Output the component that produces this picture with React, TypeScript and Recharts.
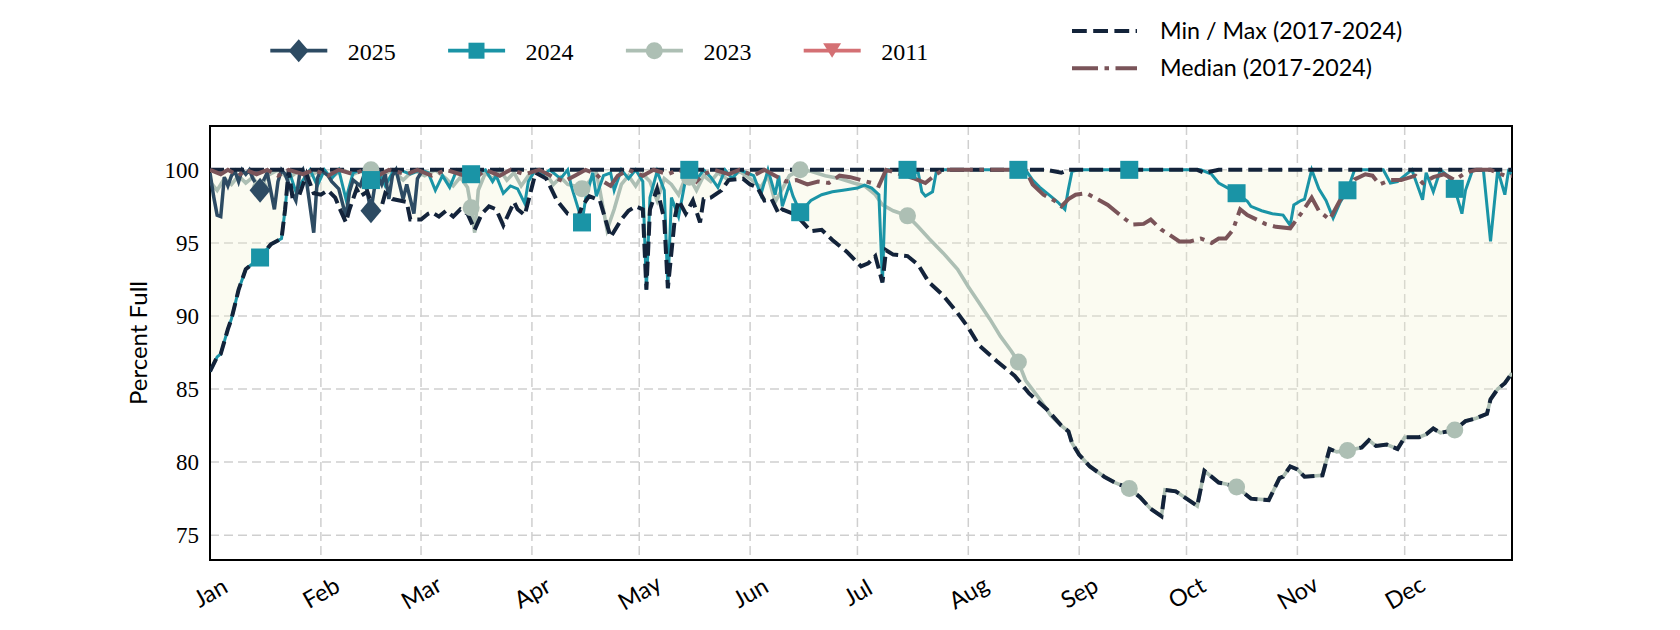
import React from "react";
import {
  ComposedChart,
  Line,
  Area,
  XAxis,
  YAxis,
  CartesianGrid,
  ReferenceArea,
} from "recharts";

// axis ticks (day of year)
const monthTicks = [0, 31, 59, 90, 120, 151, 181, 212, 243, 273, 304, 334];
const monthNames = ["Jan", "Feb", "Mar", "Apr", "May", "Jun", "Jul", "Aug", "Sep", "Oct", "Nov", "Dec"];
const yTicks = [75, 80, 85, 90, 95, 100];
const xDomain = [0, 364];
const yDomain = [73.3, 103];

// marker on the 15th of each month
const markerDays = [14, 45, 73, 104, 134, 165, 195, 226, 257, 287, 318, 348];

// min / max band 2017-2024
const minDays = [
  0, 2, 3, 5, 6, 8, 10, 14, 17, 20,
  21, 22, 23, 25, 27, 29, 31, 33, 35, 36,
  38, 39, 41, 42, 44, 46, 48, 49, 51, 53,
  55, 56, 59, 61, 62, 64, 66, 68, 70, 72,
  74, 76, 78, 80, 82, 85, 86, 88, 91, 94,
  97, 100, 103, 104, 106, 109, 112, 115, 117, 119,
  121, 122, 123, 125, 127, 128, 130, 131, 133, 135,
  137, 138, 140, 143, 145, 149, 151, 153, 155, 157,
  159, 160, 163, 165, 168, 171, 174, 178, 182, 184,
  186, 188, 189, 191, 195, 198, 201, 205, 209, 212,
  215, 220, 225, 229, 234, 238, 240, 241, 243, 246,
  250, 253, 257, 260, 263, 266, 267, 270, 273, 276,
  278, 282, 284, 287, 291, 296, 299, 300, 302, 304,
  306, 311, 313, 315, 318, 322, 324, 326, 329, 332,
  334, 338, 340, 342, 344, 348, 351, 354, 357, 358,
  360, 362, 364,
];
const minPct = [
  86.2, 87.2, 87.4, 89.1, 89.8, 91.8, 93.2, 94.0, 94.9, 95.3,
  97.3, 100, 98.2, 98.3, 99.7, 98.4, 98.3, 98.6, 98.1, 97.5,
  96.4, 97.3, 98.7, 98.2, 98.5, 97.1, 97.5, 98.4, 98.0, 97.9,
  97.8, 96.6, 96.6, 97.0, 97.1, 96.8, 97.2, 96.8, 97.3, 97.0,
  95.9, 97.0, 97.5, 97.3, 96.2, 97.8, 97.3, 96.9, 99.8, 99.4,
  97.9, 97.0, 96.8, 97.5, 98.2, 97.9, 95.4, 96.6, 97.2, 97.5,
  97.3, 91.8, 97.3, 98.7, 96.6, 91.9, 96.8, 97.9, 97.0, 97.9,
  96.4, 98.0, 98.1, 98.6, 99.3, 99.4, 99.0, 98.8, 97.9, 98.0,
  97.0, 97.3, 97.0, 96.6, 95.8, 95.9, 95.2, 94.4, 93.4, 93.6,
  94.1, 92.3, 94.5, 94.2, 94.1, 93.5, 92.3, 91.4, 90.2, 89.2,
  88.0, 86.9, 85.9, 84.7, 83.6, 82.5, 82.1, 81.3, 80.5, 79.7,
  79.0, 78.6, 78.2, 77.6, 76.8, 76.3, 78.1, 78.0, 77.5, 77.0,
  79.4, 78.6, 78.5, 78.3, 77.5, 77.4, 78.9, 79.0, 79.7, 79.5,
  79.0, 79.1, 80.9, 80.7, 80.8, 81.0, 81.5, 81.1, 81.2, 80.9,
  81.7, 81.7, 81.9, 82.3, 82.0, 82.2, 82.8, 83.0, 83.3, 84.3,
  85.0, 85.4, 86.1,
];
const maxPct = [
  100, 100, 100, 100, 100, 100, 100, 100, 100, 100,
  100, 100, 100, 100, 100, 100, 100, 100, 100, 100,
  100, 100, 100, 100, 100, 100, 100, 100, 100, 100,
  100, 100, 100, 100, 100, 100, 100, 100, 100, 100,
  100, 100, 100, 100, 100, 100, 100, 100, 100, 100,
  100, 100, 100, 100, 100, 100, 100, 100, 100, 100,
  100, 100, 100, 100, 100, 100, 100, 100, 100, 100,
  100, 100, 100, 100, 100, 100, 100, 100, 100, 100,
  100, 100, 100, 100, 100, 100, 100, 100, 100, 100,
  100, 100, 100, 100, 100, 100, 100, 100, 100, 100,
  100, 100, 100, 100, 100, 99.8, 100, 100, 100, 100,
  100, 100, 100, 100, 100, 100, 100, 100, 100, 100,
  99.8, 100, 100, 100, 100, 100, 100, 100, 100, 100,
  100, 100, 100, 100, 100, 100, 100, 100, 100, 100,
  100, 100, 100, 100, 100, 100, 100, 100, 100, 100,
  100, 100, 100,
];

// median 2017-2024
const medianDays = [
  0, 3, 5, 8, 10, 13, 16, 19, 22, 26,
  29, 33, 36, 40, 43, 47, 50, 55, 58, 62,
  66, 70, 74, 77, 81, 84, 88, 92, 96, 99,
  102, 105, 108, 110, 112, 114, 117, 121, 124, 128,
  131, 134, 136, 138, 141, 145, 148, 152, 155, 158,
  161, 164, 167, 170, 173, 176, 179, 182, 185, 187,
  189, 197, 200, 203, 205, 228, 230, 233, 236, 238,
  240, 242, 245, 248, 251, 254, 256, 258, 261, 263,
  266, 268, 271, 274, 277, 280, 282, 284, 286, 288,
  290, 293, 295, 298, 302, 305, 308, 310, 313, 316,
  320, 323, 325, 327, 330, 333, 337, 339, 342, 345,
  348, 351, 354, 358, 362, 364,
];
const medianPct = [
  100, 99.7, 100, 99.6, 100, 99.7, 100, 99.6, 100, 99.7,
  100, 99.6, 100, 99.7, 100, 99.6, 100, 99.7, 100, 99.6,
  100, 99.7, 99.4, 100, 99.6, 100, 99.7, 100, 99.5, 99.2,
  99.6, 100, 99.7, 99.2, 98.9, 99.6, 100, 99.6, 100, 99.7,
  100, 99.7, 99.2, 99.7, 100, 99.7, 100, 99.6, 100, 99.6,
  99.2, 99.3, 99.0, 99.2, 99.1, 99.6, 99.5, 99.3, 99.1, 98.9,
  100, 99.4, 99.1, 99.7, 100, 100, 99.0, 98.3, 97.9, 97.5,
  98.0, 98.3, 98.4, 98.0, 97.6, 97.0, 96.6, 96.25, 96.3, 96.6,
  95.9, 95.6, 95.1, 95.1, 95.3, 95.0, 95.3, 95.3, 95.9, 97.3,
  96.9, 96.55, 96.3, 96.1, 96.0, 97.0, 98.1, 97.2, 96.6, 97.95,
  99.35, 99.7, 99.6, 99.0, 99.3, 99.3, 99.6, 99.1, 99.5, 99.7,
  99.3, 99.8, 100, 100, 99.6, 99.6,
];

// 2025
const days2025 = [
  0, 1, 2, 3, 4, 5, 6, 7, 8, 9,
  10, 11, 12, 14, 15, 16, 18, 19, 20, 21,
  23, 24, 25, 26, 27, 29, 30, 31, 33, 34,
  36, 38, 39, 40, 42, 43, 45, 46, 47, 48,
  49, 50, 51, 52, 54, 55, 57, 58, 59,
];
const pct2025 = [
  99.8, 98.2, 96.9, 96.8, 99.5, 98.9, 99.6, 99.9, 99.2, 100,
  99.7, 100, 99.4, 98.6, 99.3, 99.8, 97.3, 99.2, 100, 99.7,
  98.4, 97.9, 99.6, 100, 99.2, 95.7, 99.4, 100, 99.6, 99.2,
  98.7, 96.8, 98.5, 99.3, 98.9, 99.6, 97.2, 98.8, 99.5, 99.0,
  99.7, 98.0, 99.6, 100, 98.0, 99.0, 97.0, 99.4, 99.8,
];

// 2024
const days2024 = [
  0, 2, 3, 5, 6, 8, 10, 14, 17, 20,
  21, 22, 24, 26, 28, 30, 32, 34, 36, 38,
  40, 42, 45, 47, 49, 51, 53, 56, 59, 61,
  63, 65, 67, 69, 71, 73, 75, 77, 79, 80,
  82, 84, 86, 88, 89, 91, 93, 95, 98, 100,
  101, 103, 104, 105, 107, 108, 110, 112, 113, 115,
  117, 119, 121, 122, 123, 125, 127, 128, 129, 131,
  133, 134, 136, 138, 140, 142, 144, 146, 148, 150,
  152, 154, 156, 158, 159, 160, 162, 163, 165, 168,
  171, 174, 177, 181, 183, 185, 187, 188, 189, 195,
  198, 199, 200, 202, 203, 205, 226, 228, 230, 232,
  235, 237, 239, 240, 241, 243, 257, 277, 280, 282,
  285, 287, 290, 291, 294, 297, 300, 302, 303, 305,
  306, 308, 310, 312, 314, 316, 318, 320, 324, 328,
  330, 332, 334, 336, 339, 340, 342, 344, 346, 348,
  350, 351, 353, 356, 358, 360, 362, 363, 364,
];
const pct2024 = [
  86.2, 87.2, 87.4, 89.1, 89.8, 91.8, 93.2, 94.0, 94.9, 95.3,
  97.3, 100, 98.5, 99.3, 100, 98.9, 100, 99.4, 100, 98.0,
  99.8, 100, 99.3, 100, 98.9, 99.8, 100, 99.7, 100, 99.8,
  98.6, 99.6, 98.8, 100, 99.7, 99.7, 99.8, 100, 99.2, 99.6,
  98.4, 98.9, 98.7, 97.7, 99.2, 100, 99.6, 100, 99.4, 100,
  98.9, 97.3, 96.4, 98.0, 99.8, 98.2, 99.6, 99.8, 98.6, 100,
  99.4, 100, 99.2, 91.8, 98.1, 99.9, 98.6, 91.9, 98.1, 96.8,
  99.4, 100, 99.3, 100, 99.5, 98.8, 100, 99.4, 100, 99.8,
  99.6, 98.3, 100, 98.3, 99.6, 97.5, 99.0, 98.2, 97.1, 97.9,
  98.3, 98.5, 98.6, 98.75, 98.95, 98.75, 98.3, 92.3, 100, 100,
  99.8, 98.5, 98.2, 98.5, 99.8, 100, 100, 100, 99.3, 98.8,
  98.2, 97.8, 97.3, 98.7, 99.9, 100, 100, 100, 99.7, 99.1,
  98.7, 98.4, 97.85, 97.5, 97.2, 97.0, 96.9, 96.2, 97.6, 97.9,
  98.0, 100, 98.7, 97.9, 96.7, 97.8, 98.6, 100, 100, 100,
  99.1, 99.2, 99.6, 100, 97.95, 99.8, 98.5, 100, 99.6, 98.7,
  97.0, 98.6, 100, 100, 95.1, 100, 98.3, 99.9, 99.7,
];

// 2023
const days2023 = [
  0, 2, 4, 6, 8, 10, 12, 14, 16, 19,
  22, 25, 28, 31, 34, 37, 40, 43, 45, 48,
  51, 54, 57, 60, 63, 66, 68, 70, 72, 73,
  74, 75, 77, 79, 81, 83, 85, 87, 89, 91,
  94, 96, 98, 100, 102, 104, 106, 108, 109, 111,
  113, 115, 117, 119, 121, 123, 125, 127, 129, 131,
  133, 134, 136, 138, 140, 142, 145, 148, 151, 154,
  156, 158, 160, 162, 165, 168, 172, 176, 180, 183,
  186, 188, 191, 195, 198, 201, 205, 209, 212, 215,
  218, 221, 224, 226, 228, 232, 235, 238, 240, 241,
  243, 246, 250, 253, 257, 260, 263, 266, 267, 270,
  273, 276, 278, 282, 284, 287, 291, 296, 299, 300,
  302, 304, 306, 311, 313, 315, 318, 322, 324, 326,
  329, 332, 334, 338, 340, 342, 344, 348, 351, 354,
  357, 358, 360, 362, 364,
];
const pct2023 = [
  99.2, 98.6, 99.4, 99.0, 99.6, 99.1, 99.5, 98.7, 99.6, 100,
  99.4, 100, 99.6, 100, 99.5, 100, 99.7, 100, 100, 99.6,
  100, 99.3, 100, 99.6, 100, 99.4, 98.9, 99.5, 98.8, 97.4,
  95.7, 98.6, 99.8, 99.4, 100, 99.3, 99.8, 98.9, 99.6, 100,
  99.7, 99.0, 99.5, 99.0, 98.9, 98.7, 99.2, 99.8, 98.6, 95.9,
  97.3, 99.0, 99.6, 98.9, 99.7, 99.2, 97.9, 99.4, 99.0, 98.3,
  99.5, 99.5, 98.6, 99.6, 99.2, 99.8, 99.3, 99.9, 99.4, 98.8,
  99.6, 97.8, 98.7, 99.6, 100, 99.9, 99.6, 99.4, 99.1, 98.9,
  98.3, 97.6, 97.2, 96.85, 96.1, 95.3, 94.3, 93.2, 92.0, 90.9,
  89.8, 88.6, 87.6, 86.85, 85.6, 84.3, 83.2, 82.5, 82.1, 81.3,
  80.5, 79.7, 79.0, 78.6, 78.2, 77.6, 76.8, 76.3, 78.1, 78.0,
  77.5, 77.0, 79.4, 78.6, 78.5, 78.3, 77.5, 77.4, 78.9, 79.0,
  79.7, 79.5, 79.0, 79.1, 80.9, 80.7, 80.8, 81.0, 81.5, 81.1,
  81.2, 80.9, 81.7, 81.7, 81.9, 82.3, 82.0, 82.2, 82.8, 83.0,
  83.3, 84.3, 85.0, 85.4, 86.1,
];

// 2011 (legend only, nothing in range)
const days2011: number[] = [];
const pct2011: number[] = [];

const COLORS = {
  y2025: "#2d4b63",
  y2024: "#1a94a6",
  y2023: "#adbfb4",
  y2011: "#d47074",
  minMax: "#13233a",
  median: "#7a5459",
};

const toRows = (days: number[], vals: number[]) =>
  days.map((day, i) => ({ day, pct: vals[i] }));

const bounds = minDays.map((day, i) => ({
  day,
  min: minPct[i],
  max: maxPct[i],
  band: [minPct[i], maxPct[i]],
}));
const rows2025 = toRows(days2025, pct2025);
const rows2024 = toRows(days2024, pct2024);
const rows2023 = toRows(days2023, pct2023);
const rows2011 = toRows(days2011, pct2011);
const medianRows = toRows(medianDays, medianPct);

const yearLegend = [
  { label: "2025", color: COLORS.y2025, shape: "diamond" },
  { label: "2024", color: COLORS.y2024, shape: "square" },
  { label: "2023", color: COLORS.y2023, shape: "circle" },
  { label: "2011", color: COLORS.y2011, shape: "triangle" },
];

function markerDot(shape: string, color: string) {
  return (props: any) => {
    const { cx, cy, payload, index } = props;
    if (cx == null || cy == null || !markerDays.includes(payload.day)) {
      return <g key={`n-${index}`} />;
    }
    if (shape === "square") {
      return <rect key={`m-${index}`} x={cx - 9} y={cy - 9} width={18} height={18} fill={color} />;
    }
    if (shape === "circle") {
      return <circle key={`m-${index}`} cx={cx} cy={cy} r={8.5} fill={color} />;
    }
    return (
      <polygon
        key={`m-${index}`}
        points={`${cx},${cy - 12.5} ${cx + 10.5},${cy} ${cx},${cy + 12.5} ${cx - 10.5},${cy}`}
        fill={color}
      />
    );
  };
}

const MonthTick = (props: any) => {
  const { x, y, payload } = props;
  const name = monthNames[monthTicks.indexOf(payload.value)];
  return (
    <text
      x={x}
      y={y}
      transform={`rotate(-30, ${x}, ${y})`}
      textAnchor="middle"
      dominantBaseline="central"
      fontFamily="Lato"
      fontSize={23.5}
      fill="#000"
    >
      {name}
    </text>
  );
};

const YLabel = (props: any) => {
  const { viewBox } = props;
  const cx = viewBox.x - 13;
  const cy = viewBox.y + viewBox.height / 2;
  return (
    <text
      x={cx}
      y={cy}
      transform={`rotate(-90, ${cx}, ${cy})`}
      textAnchor="middle"
      dominantBaseline="central"
      fontFamily="Lato"
      fontSize={24}
      fill="#000"
    >
      Percent Full
    </text>
  );
};

function LegendMarker({ shape, x, y, color }: { shape: string; x: number; y: number; color: string }) {
  if (shape === "diamond")
    return <polygon points={`${x},${y - 11.5} ${x + 10},${y} ${x},${y + 11.5} ${x - 10},${y}`} fill={color} />;
  if (shape === "square") return <rect x={x - 8} y={y - 8} width={16} height={16} fill={color} />;
  if (shape === "circle") return <circle cx={x} cy={y} r={8.5} fill={color} />;
  return <polygon points={`${x - 9},${y - 7.5} ${x + 9},${y - 7.5} ${x},${y + 7}`} fill={color} />;
}

function ChartLegend() {
  return (
    <svg width={1680} height={100} style={{ position: "absolute", left: 0, top: 0, pointerEvents: "none" }}>
      {yearLegend.map((item, i) => {
        const x0 = 270.3 + i * 177.8;
        const y = 50.7;
        return (
          <g key={item.label}>
            <line x1={x0} x2={x0 + 57} y1={y} y2={y} stroke={item.color} strokeWidth={3.7} />
            <LegendMarker shape={item.shape} x={x0 + 28.4} y={y} color={item.color} />
            <text x={x0 + 77.5} y={59.5} fontFamily="Liberation Serif" fontSize={24} fill="#000">
              {item.label}
            </text>
          </g>
        );
      })}
      <line x1={1072} x2={1137} y1={31} y2={31} stroke={COLORS.minMax} strokeWidth={4} strokeDasharray="14.8 6.4" />
      <text x={1160} y={38.5} fontFamily="Lato" fontSize={23.3} fill="#000">
        Min / Max (2017-2024)
      </text>
      <line x1={1072} x2={1137} y1={68.3} y2={68.3} stroke={COLORS.median} strokeWidth={4} strokeDasharray="26 6.5 4.5 6.5" />
      <text x={1160} y={76.2} fontFamily="Lato" fontSize={23.3} fill="#000">
        Median (2017-2024)
      </text>
    </svg>
  );
}

export default function App() {
  return (
    <div style={{ position: "absolute", left: 0, top: 0, width: 1680, height: 630, background: "#fff" }}>
      <ComposedChart width={1680} height={630} margin={{ top: 126, right: 168, left: 150, bottom: 20 }}>
        <CartesianGrid stroke="#cfcfcf" strokeDasharray="9 5" strokeWidth={1.5} />
        <XAxis
          dataKey="day"
          type="number"
          domain={xDomain}
          ticks={monthTicks}
          interval={0}
          tick={<MonthTick />}
          tickLine={false}
          axisLine={false}
          tickSize={0}
          tickMargin={32}
          height={50}
          allowDataOverflow
        />
        <YAxis
          type="number"
          domain={yDomain}
          ticks={yTicks}
          interval={0}
          width={60}
          tickLine={false}
          axisLine={false}
          tickSize={0}
          tickMargin={11}
          tick={{ fontFamily: "Liberation Serif", fontSize: 23, fill: "#000" }}
          label={<YLabel />}
          allowDataOverflow
        />
        <Area
          data={bounds}
          dataKey="band"
          type="linear"
          stroke="none"
          fill="#f2f2cc"
          fillOpacity={0.28}
          isAnimationActive={false}
        />
        <Line data={rows2011} dataKey="pct" stroke={COLORS.y2011} strokeWidth={3} dot={false} activeDot={false} isAnimationActive={false} />
        <Line data={rows2023} dataKey="pct" type="linear" stroke={COLORS.y2023} strokeWidth={3.6} dot={false} activeDot={false} isAnimationActive={false} />
        <Line data={rows2024} dataKey="pct" type="linear" stroke={COLORS.y2024} strokeWidth={3} dot={false} activeDot={false} isAnimationActive={false} />
        <Line data={rows2025} dataKey="pct" type="linear" stroke={COLORS.y2025} strokeWidth={3.5} dot={false} activeDot={false} isAnimationActive={false} />
        <Line data={bounds} dataKey="min" type="linear" stroke={COLORS.minMax} strokeWidth={4} strokeDasharray="14 6" dot={false} activeDot={false} isAnimationActive={false} />
        <Line data={bounds} dataKey="max" type="linear" stroke={COLORS.minMax} strokeWidth={4} strokeDasharray="14 6" dot={false} activeDot={false} isAnimationActive={false} />
        <Line data={medianRows} dataKey="pct" type="linear" stroke={COLORS.median} strokeWidth={4} strokeDasharray="26 6.5 4.5 6.5" dot={false} activeDot={false} isAnimationActive={false} />
        <Line data={rows2023} dataKey="pct" stroke="none" dot={markerDot("circle", COLORS.y2023)} activeDot={false} isAnimationActive={false} />
        <Line data={rows2024} dataKey="pct" stroke="none" dot={markerDot("square", COLORS.y2024)} activeDot={false} isAnimationActive={false} />
        <Line data={rows2025} dataKey="pct" stroke="none" dot={markerDot("diamond", COLORS.y2025)} activeDot={false} isAnimationActive={false} />
        <ReferenceArea
          x1={xDomain[0]}
          x2={xDomain[1]}
          y1={yDomain[0]}
          y2={yDomain[1]}
          fill="none"
          stroke="#000"
          strokeWidth={2}
          ifOverflow="visible"
        />
      </ComposedChart>
      <ChartLegend />
    </div>
  );
}
